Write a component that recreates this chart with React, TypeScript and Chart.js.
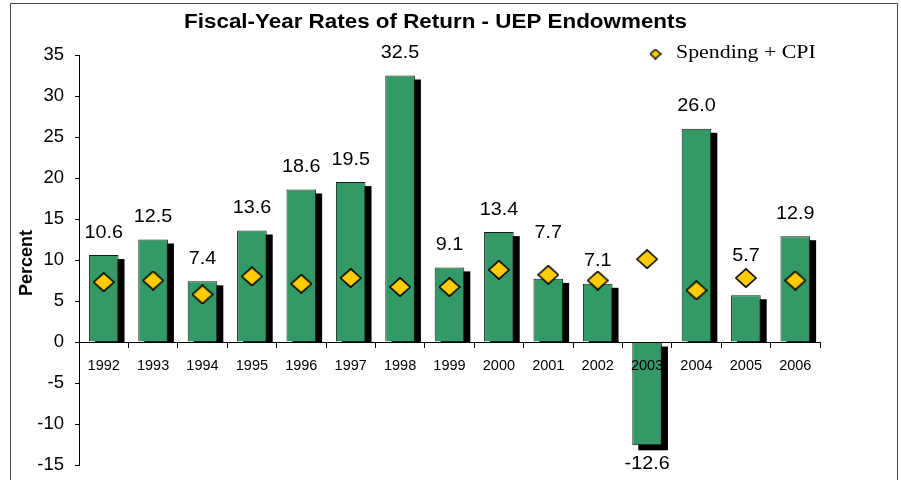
import React, { useEffect, useRef } from 'react';
import { Chart, registerables } from 'chart.js';

Chart.register(...registerables);

const years = ['1992', '1993', '1994', '1995', '1996', '1997', '1998', '1999', '2000', '2001', '2002', '2003', '2004', '2005', '2006'];
const returns = [10.6, 12.5, 7.4, 13.6, 18.6, 19.5, 32.5, 9.1, 13.4, 7.7, 7.1, -12.6, 26.0, 5.7, 12.9];
const spendingCpi = [7.3, 7.5, 5.8, 8.0, 7.1, 7.8, 6.7, 6.7, 8.8, 8.2, 7.5, 10.1, 6.3, 7.8, 7.5];
const yMin = -15;
const yMax = 35;
const yStep = 5;
const titleText = 'Fiscal-Year Rates of Return - UEP Endowments';
const legendText = 'Spending + CPI';
const yTitleText = 'Percent';
// labels the original nudged upward to clear the diamond markers (pixels)
const raisedLabels: Record<string, number> = { '2001': 23.5, '2005': 17 };

const SANS = "'Liberation Sans', Arial, sans-serif";
const SERIF = "'Liberation Serif', 'Times New Roman', serif";
const GREEN = '#339966';
const GOLD = '#FFCC00';

function makeDiamond(w: number, h: number, lw: number): HTMLCanvasElement {
  const c = document.createElement('canvas');
  c.width = w;
  c.height = h;
  const ctx = c.getContext('2d')!;
  ctx.beginPath();
  ctx.moveTo(w / 2, lw / 2);
  ctx.lineTo(w - lw / 2, h / 2);
  ctx.lineTo(w / 2, h - lw / 2);
  ctx.lineTo(lw / 2, h / 2);
  ctx.closePath();
  ctx.fillStyle = GOLD;
  ctx.fill();
  ctx.lineWidth = lw;
  ctx.strokeStyle = '#000';
  ctx.stroke();
  return c;
}

function drawText(ctx: CanvasRenderingContext2D, text: string, x: number, y: number, font: string, sx: number, align: CanvasTextAlign) {
  ctx.save();
  ctx.translate(x, y);
  ctx.scale(sx, 1);
  ctx.font = font;
  ctx.fillStyle = '#000';
  ctx.textAlign = align;
  ctx.textBaseline = 'alphabetic';
  ctx.fillText(text, 0, 0);
  ctx.restore();
}

export default function App() {
  const ref = useRef<HTMLCanvasElement | null>(null);

  useEffect(() => {
    if (!ref.current) return;
    const pointImg = makeDiamond(22, 20, 1.6);
    const legendImg = makeDiamond(12, 11, 1.4);

    const decor = {
      id: 'decor',
      beforeDraw(chart: any) {
        const ctx = chart.ctx;
        ctx.save();
        ctx.fillStyle = '#fff';
        ctx.fillRect(0, 0, chart.width, chart.height);
        ctx.restore();
      },
      beforeDatasetsDraw(chart: any) {
        const ctx = chart.ctx;
        const meta = chart.getDatasetMeta(1);
        ctx.save();
        ctx.fillStyle = '#000';
        meta.data.forEach((bar: any, i: number) => {
          const p = bar.getProps(['x', 'y', 'base', 'width'], true);
          const left = p.x - p.width / 2 + 6;
          const top = Math.min(p.y, p.base) + 4;
          const bottom = Math.max(p.y, p.base) + (returns[i] >= 0 ? 1.5 : 5);
          ctx.fillRect(left, top, p.width, bottom - top);
        });
        ctx.restore();
      },
      afterDatasetsDraw(chart: any) {
        const ctx = chart.ctx;
        const meta = chart.getDatasetMeta(1);
        meta.data.forEach((bar: any, i: number) => {
          const p = bar.getProps(['x', 'y'], true);
          const v = returns[i];
          const lift = raisedLabels[years[i]] || 0;
          const y = v >= 0 ? p.y - 17.5 - lift : p.y + 23.5;
          drawText(ctx, v.toFixed(1), p.x, y, `17.5px ${SANS}`, 1.13, 'center');
        });
      },
      afterDraw(chart: any) {
        const ctx = chart.ctx;
        drawText(ctx, titleText, 435.5, 28, `bold 20px ${SANS}`, 1.12, 'center');
        ctx.drawImage(legendImg, 655.5 - 6, 54 - 5.5);
        drawText(ctx, legendText, 676, 58, `19px ${SERIF}`, 1.15, 'left');
        ctx.save();
        ctx.translate(27.5, 263);
        ctx.rotate(-Math.PI / 2);
        ctx.font = `bold 18px ${SANS}`;
        ctx.fillStyle = '#000';
        ctx.textAlign = 'center';
        ctx.textBaseline = 'middle';
        ctx.fillText(yTitleText, 0, 0);
        ctx.restore();
        ctx.save();
        ctx.strokeStyle = '#444';
        ctx.lineWidth = 1;
        ctx.beginPath();
        ctx.moveTo(10.5, 481);
        ctx.lineTo(10.5, 3.5);
        ctx.lineTo(897.5, 3.5);
        ctx.lineTo(897.5, 481);
        ctx.stroke();
        ctx.restore();
      },
    };

    const chart = new Chart(ref.current, {
      type: 'bar',
      data: {
        labels: years,
        datasets: [
          {
            type: 'line',
            label: legendText,
            data: spendingCpi,
            showLine: false,
            pointStyle: pointImg as any,
            pointRadius: 10,
            pointHoverRadius: 10,
            order: 0,
          } as any,
          {
            type: 'bar',
            label: 'Return',
            data: returns,
            backgroundColor: GREEN,
            borderColor: '#1a1a1a',
            borderWidth: 1,
            barPercentage: 0.6,
            categoryPercentage: 1,
            order: 1,
          } as any,
        ],
      },
      plugins: [decor],
      options: {
        animation: false,
        responsive: false,
        maintainAspectRatio: false,
        devicePixelRatio: 1,
        layout: { padding: { left: 10, top: 55, right: 81, bottom: 15 } },
        plugins: {
          legend: { display: false },
          title: { display: false },
          tooltip: { enabled: false },
        },
        scales: {
          x: {
            type: 'category',
            position: { y: 0 } as any,
            offset: true,
            grid: {
              offset: true,
              drawOnChartArea: false,
              drawTicks: true,
              tickLength: 5,
              color: '#000',
              z: 1,
            },
            border: { display: true, color: '#000', width: 1, z: 1 },
            ticks: {
              color: '#000',
              font: { family: SANS, size: 14.5 },
              padding: 10,
              maxRotation: 0,
              autoSkip: false,
              z: 1,
            },
          },
          y: {
            type: 'linear',
            position: 'left',
            min: yMin,
            max: yMax,
            afterFit: (scale: any) => {
              scale.width = 69;
              scale.paddingTop = 0;
              scale.paddingBottom = 0;
            },
            grid: {
              drawOnChartArea: false,
              drawTicks: true,
              tickLength: 4,
              color: '#000',
            },
            border: { display: true, color: '#000', width: 1 },
            ticks: {
              stepSize: yStep,
              color: '#000',
              font: { family: SANS, size: 18.5 },
              padding: 11,
            },
          },
        },
      } as any,
    });
    return () => chart.destroy();
  }, []);

  return (
    <div style={{ position: 'absolute', left: 0, top: 0, width: 901, height: 480, background: '#fff' }}>
      <canvas ref={ref} width={901} height={480} style={{ display: 'block', width: 901, height: 480 }} />
    </div>
  );
}
